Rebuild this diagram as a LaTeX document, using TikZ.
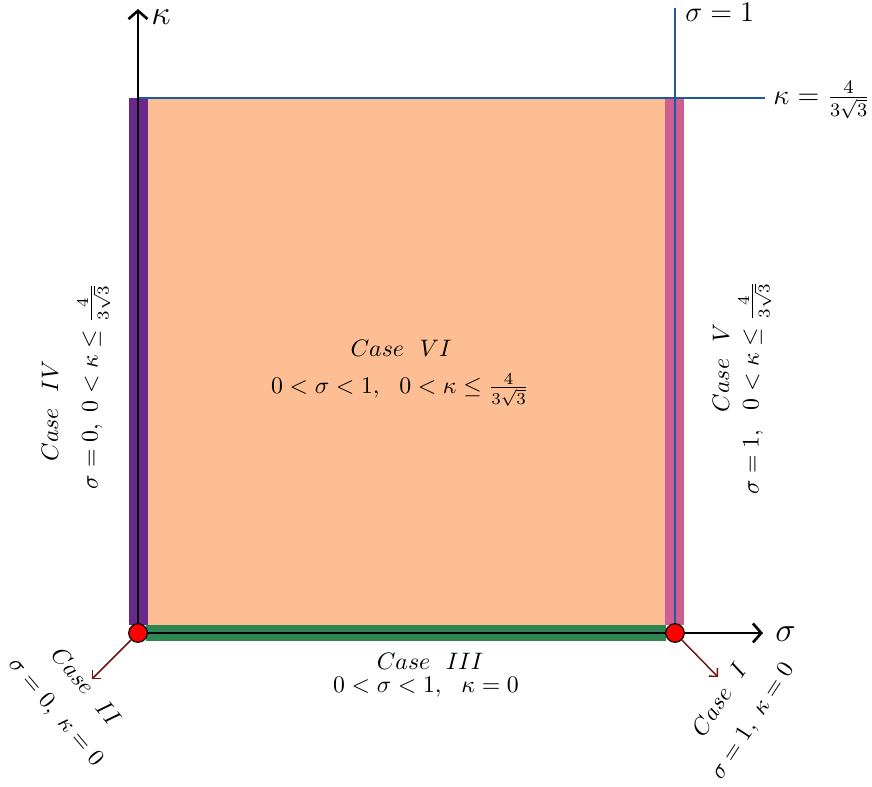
\documentclass[tikz,border=0pt]{standalone}
\usetikzlibrary{arrows.meta}
\definecolor{regorange}{RGB}{252,190,146}
\definecolor{regpurple}{RGB}{106,40,140}
\definecolor{regpink}{RGB}{205,95,145}
\definecolor{reggreen}{RGB}{46,135,80}
\definecolor{regblue}{RGB}{30,90,160}
\definecolor{regred}{RGB}{110,20,20}
\begin{document}
\begin{tikzpicture}[x=0.42pt,y=-0.42pt,
  axis/.style={line width=1.1pt,-{Straight Barb[length=3.5pt,width=8pt]}},
  bline/.style={regblue,line width=0.9pt},
  pt/.style={circle,draw=black,fill=red,line width=0.5pt,minimum size=7.8pt,inner sep=0pt},
  ptr/.style={regred,line width=0.6pt,-{Straight Barb[length=2.5pt,width=5pt]}},
  lbl/.style={inner sep=1pt,align=center}]
\useasboundingbox (0,0) rectangle (872,787);
% regions
\fill[regorange] (146,98) rectangle (666,625);
\fill[regpurple] (129,98) rectangle (148,625);
\fill[regpink] (665,98) rectangle (684,625);
\fill[reggreen] (146,625) rectangle (666,641);
% blue lines
\coordinate (vtop) at (675,8);
\coordinate (vbot) at (675,633);
\coordinate (hl) at (138,98);
\coordinate (hr) at (765,98);
\draw[bline] (vtop) -- (vbot);
\draw[bline] (hl) -- (hr);
% axes
\coordinate (O) at (138,633);
\coordinate (ktip) at (138,9);
\coordinate (stip) at (763,633);
\draw[axis] (O) -- (ktip);
\draw[axis] (O) -- (stip);
\node[anchor=west,inner sep=0pt] (klab) at (151,17) {\Large$\kappa$};
\node[anchor=west,inner sep=0pt] (slab) at (775,634) {\Large$\sigma$};
\node[anchor=west,inner sep=0pt] (s1lab) at (685,12) {\large$\sigma=1$};
\node[anchor=west,inner sep=0pt] (kmax) at (773,100) {\large$\kappa=\frac{4}{3\sqrt{3}}$};
% points
\node[pt] (p0) at (O) {};
\node[pt] (p1) at (vbot) {};
\coordinate (a0) at (92,679);
\coordinate (a1) at (718,677);
\draw[ptr] (p0) -- (a0);
\draw[ptr] (p1) -- (a1);
% labels
\node[lbl] (c6) at (401,348) {$Case\ \ VI$};
\node[lbl] (c6f) at (400,390) {$0<\sigma<1,\ \ 0<\kappa\leq\frac{4}{3\sqrt{3}}$};
\node[lbl] (c3) at (430,661) {$Case\ \ III$};
\node[lbl] (c3f) at (426,687) {$0<\sigma<1,\ \ \kappa=0$};
\node[lbl,rotate=90] (c4) at (50,411) {$Case\ \ IV$};
\node[lbl,rotate=90] (c4f) at (94,386) {$\sigma=0,\ 0<\kappa\leq\frac{4}{3\sqrt{3}}$};
\node[lbl,rotate=90] (c5) at (721,368) {$Case\ \ V$};
\node[lbl,rotate=90] (c5f) at (755,388) {$\sigma=1,\ \ 0<\kappa\leq\frac{4}{3\sqrt{3}}$};
\node[lbl,rotate=-50] (c2) at (70,700) {$Case\ \ II$\\[4pt]$\sigma=0,\ \kappa=0$};
\node[lbl,rotate=57] (c1) at (737,711) {$Case\ \ I$\\[4pt]$\sigma=1,\ \kappa=0$};
\end{tikzpicture}
\end{document}
